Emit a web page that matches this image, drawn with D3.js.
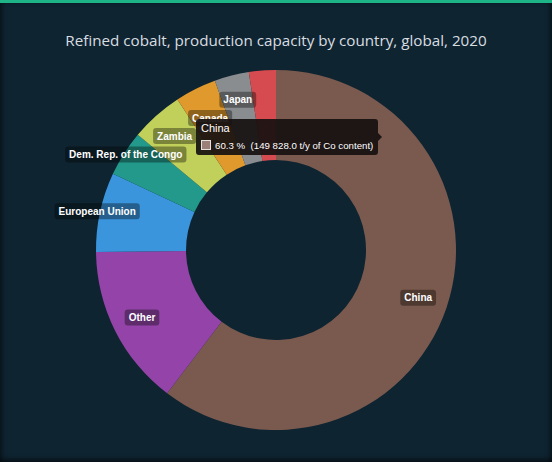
<!DOCTYPE html>
<html>
<head>
<meta charset="utf-8">
<script src="https://cdn.jsdelivr.net/npm/d3@7"></script>
<style>
  html, body { margin: 0; padding: 0; background: #0b1f2a; }
  #card {
    position: relative;
    width: 552px; height: 462px;
    box-sizing: border-box;
    border-top: 3px solid #1fb487;
    background: #0f2431;
    box-shadow: inset 4px 0 5px -2px rgba(0,0,0,0.45), inset -4px 0 5px -2px rgba(0,0,0,0.45), inset 0 -5px 5px -2px rgba(0,0,0,0.45);
  }
  svg { display: block; position: absolute; left: 0; top: -3px; }
</style>
</head>
<body>
<div id="card"><svg id="chart" width="552" height="462"></svg></div>
<script>
// refined cobalt capacity, t/y of Co content
const countries = ['China', 'Other', 'European Union', 'Dem. Rep. of the Congo', 'Zambia', 'Canada', 'Japan', 'Norway']
const capacity = [149828.0, 36000, 17700, 10200, 11700, 9200, 7700, 6000]
const colors = ['#7a5a4e', '#9444a8', '#3b95dd', '#23998b', '#c1d05b', '#e0992c', '#8a8d90', '#d64b4f']
const title = 'Refined cobalt, production capacity by country, global, 2020'
const hovered = 'China'

const data = countries.map((name, i) => ({name, value: capacity[i], color: colors[i]}))
const total = d3.sum(capacity)

const W = 552
const cx = 276, cy = 250
const outerR = 180, innerR = 90

const svg = d3.select('#chart')

svg.append('text')
  .attr('x', W / 2).attr('y', 46)
  .attr('text-anchor', 'middle')
  .attr('fill', '#d8dde0')
  .style('font-family', '"Open Sans", sans-serif')
  .style('font-size', '15.2px')
  .text(title)

const pie = d3.pie().sort(null).value((d) => d.value)
const arcs = pie(data)
const arc = d3.arc().innerRadius(innerR).outerRadius(outerR)

const g = svg.append('g').attr('transform', `translate(${cx},${cy})`)

g.selectAll('path.slice')
  .data(arcs)
  .join('path')
  .attr('class', 'slice')
  .attr('d', arc)
  .attr('fill', (d) => d.data.color)

/* labels: only slices with >= 3 % share. start at r=150, labels that stick
   out of the ring are put on the outer edge, then overlaps get pushed apart */
const lbls = arcs.filter((d) => d.data.value / total >= 0.03).map((d) => ({
  d,
  a: (d.startAngle + d.endAngle) / 2,
  r: 150,
}))

const labels = g.selectAll('g.lbl')
  .data(lbls)
  .join('g')
  .attr('class', 'lbl')

labels.append('rect')
  .attr('fill', 'rgba(0,0,0,0.36)')
  .attr('rx', 3)
labels.append('text')
  .attr('text-anchor', 'middle')
  .attr('dy', '0.35em')
  .attr('fill', '#fff')
  .style('font-family', '"Liberation Sans", Arial, sans-serif')
  .style('font-size', '10px')
  .style('font-weight', 'bold')
  .text((l) => l.d.data.name)
labels.each(function (l) {
  l.w = d3.select(this).select('text').node().getComputedTextLength() + 8
  l.h = 16
  d3.select(this).select('rect')
    .attr('x', -l.w / 2).attr('y', -8)
    .attr('width', l.w).attr('height', l.h)
})

const pos = (l) => [l.r * Math.sin(l.a), -l.r * Math.cos(l.a)]
const corners = (l) => {
  const [x, y] = pos(l)
  return [[x - l.w / 2, y - l.h / 2], [x + l.w / 2, y - l.h / 2], [x - l.w / 2, y + l.h / 2], [x + l.w / 2, y + l.h / 2]]
}
lbls.forEach((l) => {
  if (corners(l).some(([x, y]) => Math.hypot(x, y) > outerR)) l.r = outerR + 3
})

for (let it = 0; it < 300; it++) {
  let moved = false
  for (let i = 0; i < lbls.length; i++) {
    for (let j = i + 1; j < lbls.length; j++) {
      const A = lbls[i], B = lbls[j]
      const [ax, ay] = pos(A), [bx, by] = pos(B)
      const ox = (A.w + B.w) / 2 + 2 - Math.abs(ax - bx)
      const oy = (A.h + B.h) / 2 + 2 - Math.abs(ay - by)
      if (ox <= 0 || oy <= 0) continue
      moved = true
      // separate along the axis with the smaller overlap, moving radially
      const useX = ox < oy
      ;[[A, useX ? Math.sign(ax - bx) : Math.sign(ay - by)], [B, useX ? Math.sign(bx - ax) : Math.sign(by - ay)]].forEach(([L, s]) => {
        const comp = useX ? Math.sin(L.a) : -Math.cos(L.a)
        L.r += 0.5 * Math.sign(comp * s || 1)
      })
    }
  }
  if (!moved) break
}

labels.attr('transform', (l) => `translate(${pos(l)})`)

// tooltip for the hovered slice
const fmt = d3.formatLocale({decimal: '.', thousands: ' ', grouping: [3], currency: ['', '']})
const num = fmt.format(',.1f')
const hov = data.find((d) => d.name === hovered)
const pointer = [382, 137]
const tipW = 182, tipH = 36
const tip = svg.append('g')
  .attr('transform', `translate(${pointer[0] - tipW - 4},${pointer[1] - 18})`)

tip.append('path')
  .attr('d', `M3,0H${tipW - 3}Q${tipW},0 ${tipW},3V${tipH / 2 - 4}L${tipW + 4},${tipH / 2}L${tipW},${tipH / 2 + 4}V${tipH - 3}Q${tipW},${tipH} ${tipW - 3},${tipH}H3Q0,${tipH} 0,${tipH - 3}V3Q0,0 3,0Z`)
  .attr('fill', 'rgba(22,16,16,0.92)')

tip.append('text')
  .attr('x', 5).attr('y', 13)
  .attr('fill', '#fff')
  .style('font-family', '"Liberation Sans", Arial, sans-serif')
  .style('font-size', '11px')
  .text(hov.name)

tip.append('rect')
  .attr('x', 5.5).attr('y', 21.5)
  .attr('width', 9).attr('height', 9)
  .attr('fill', '#9b7f78')
  .attr('stroke', '#e6e0de')
  .attr('stroke-width', 1)

tip.append('text')
  .attr('x', 19).attr('y', 30)
  .attr('fill', '#fff')
  .style('font-family', '"Liberation Sans", Arial, sans-serif')
  .style('font-size', '9.7px')
  .style('white-space', 'pre')
  .text(`${d3.format('.1f')(hov.value / total * 100)} %  (${num(hov.value)} t/y of Co content)`)
</script>
</body>
</html>
